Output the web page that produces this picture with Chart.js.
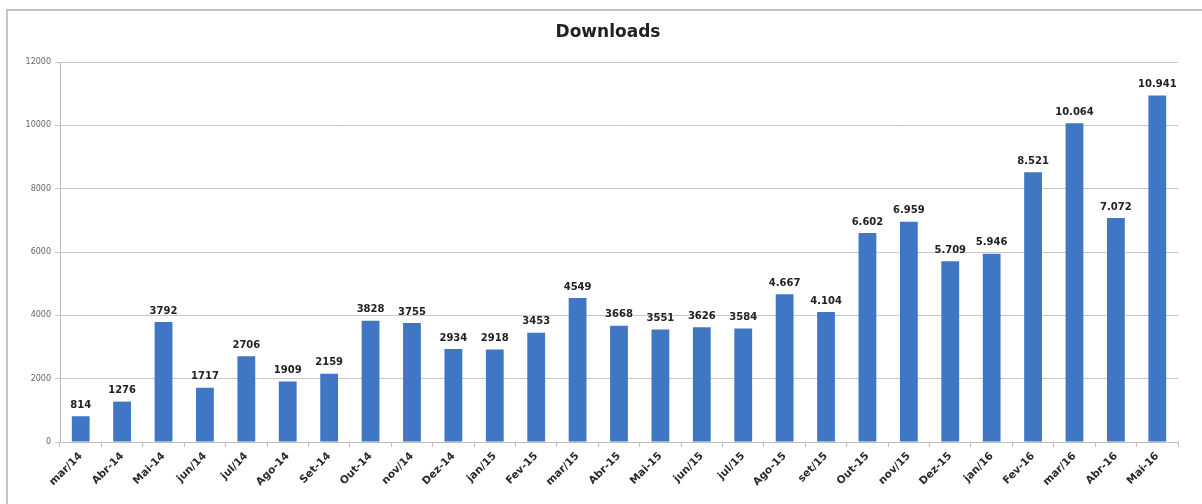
<!DOCTYPE html>
<html>
<head>
<meta charset="utf-8">
<script src="https://cdn.jsdelivr.net/npm/chart.js@4"></script>
<style>
  html, body { margin: 0; padding: 0; background: #fff; }
  #wrap { width: 1202px; height: 504px; position: relative; }
</style>
</head>
<body>
<div id="wrap"><canvas id="myChart" width="1202" height="504"></canvas></div>
<script>
// categorias (meses) e valores de downloads
var meses = ["mar/14", "Abr-14", "Mai-14", "jun/14", "jul/14", "Ago-14", "Set-14", "Out-14", "nov/14",
             "Dez-14", "jan/15", "Fev-15", "mar/15", "Abr-15", "Mai-15", "jun/15", "jul/15", "Ago-15",
             "set/15", "Out-15", "nov/15", "Dez-15", "jan/16", "Fev-16", "mar/16", "Abr-16", "Mai-16"];
var downloads = [814, 1276, 3792, 1717, 2706, 1909, 2159, 3828, 3755, 2934, 2918, 3453, 4549, 3668,
                 3551, 3626, 3584, 4667, 4104, 6602, 6959, 5709, 5946, 8521, 10064, 7072, 10941];
// rotulos como aparecem no grafico (alguns com ponto de milhar)
var rotulos = ["814", "1276", "3792", "1717", "2706", "1909", "2159", "3828", "3755", "2934", "2918",
               "3453", "4549", "3668", "3551", "3626", "3584", "4.667", "4.104", "6.602", "6.959",
               "5.709", "5.946", "8.521", "10.064", "7.072", "10.941"];
var ticksY = [0, 2000, 4000, 6000, 8000, 10000, 12000];
var titulo = "Downloads";

// moldura do grafico (borda cinza de cima e da esquerda) e titulo
var moldura = {
    id: "moldura",
    beforeDraw: function(chart){
        var ctx = chart.ctx;
        ctx.save();
        ctx.strokeStyle = "#c4c4c4";
        ctx.lineWidth = 2;
        ctx.beginPath();
        ctx.moveTo(7, 504);
        ctx.lineTo(7, 10);
        ctx.lineTo(1202, 10);
        ctx.stroke();
        ctx.font = "bold 17px 'DejaVu Sans', sans-serif";
        ctx.fillStyle = "#222";
        ctx.textAlign = "center";
        ctx.textBaseline = "middle";
        ctx.fillText(titulo, 608, 33);
        ctx.restore();
    }
};

// valores em cima das barras
var valores = {
    id: "valores",
    afterDatasetsDraw: function(chart){
        var ctx = chart.ctx;
        var meta = chart.getDatasetMeta(0);
        ctx.save();
        ctx.font = "bold 10px 'DejaVu Sans', sans-serif";
        ctx.fillStyle = "#222";
        ctx.textAlign = "center";
        ctx.textBaseline = "bottom";
        meta.data.forEach(function(bar, i){
            ctx.fillText(rotulos[i], bar.x, bar.y - 6);
        });
        ctx.restore();
    }
};

var ctx = document.getElementById("myChart");
var myChart = new Chart(ctx, {
    type: "bar",
    data: {
        labels: meses,
        datasets: [{
            label: titulo,
            data: downloads,
            backgroundColor: "#4077c4",
            borderWidth: 0,
            barPercentage: 0.86,
            categoryPercentage: 0.5
        }]
    },
    options: {
        responsive: false,
        animation: false,
        layout: { padding: { left: 0, right: 24, top: 62, bottom: 0 } },
        plugins: {
            legend: { display: false },
            tooltip: { enabled: false },
            title: { display: false }
        },
        scales: {
            x: {
                grid: { display: true, offset: true, drawOnChartArea: false, color: "#bdbdbd", tickLength: 5 },
                border: { color: "#bdbdbd" },
                ticks: {
                    minRotation: 45, maxRotation: 45, autoSkip: false,
                    color: "#2a2a2a",
                    font: { family: "'DejaVu Sans', sans-serif", size: 10.5, weight: "bold" }
                },
                afterFit: function(scale){ scale.height = 62; }
            },
            y: {
                min: 0, max: 12000,
                afterBuildTicks: function(scale){
                    scale.ticks = ticksY.map(function(v){ return { value: v }; });
                },
                grid: { color: "#c8c8c8", tickLength: 5 },
                border: { color: "#bdbdbd" },
                ticks: {
                    color: "#666",
                    padding: 4,
                    font: { family: "'DejaVu Sans', sans-serif", size: 8 },
                    callback: function(v){ return String(v); }
                },
                afterFit: function(scale){ scale.width = 60; }
            }
        }
    },
    plugins: [moldura, valores]
});
</script>
</body>
</html>
